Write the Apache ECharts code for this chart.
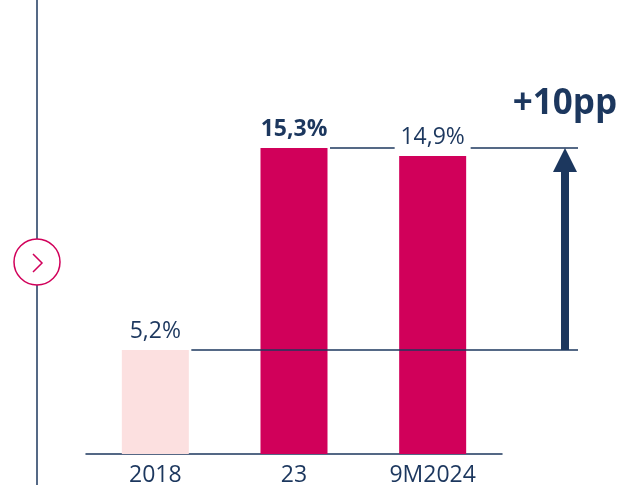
<!DOCTYPE html>
<html>
<head>
    <meta charset="utf-8">
    <title>Bar chart</title>
    <script src="https://cdn.jsdelivr.net/npm/echarts@6/dist/echarts.min.js"></script>
</head>
<body style="margin:0;background:#fff">
<div id="main" style="width: 625px;height:485px;"></div>
<script type="text/javascript">
    // data
    const categories = ['2018', '23', '9M2024'];
    const values = [5.2, 15.3, 14.9];
    const labelTexts = ['5,2%', '15,3%', '14,9%'];
    const boldLabel = [false, true, false];
    const barColors = ['#fce0e0', '#d1005a', '#d1005a'];
    const deltaText = '+10pp';

    const navy = '#1c375e';
    const pink = '#d1005a';
    const font = 'Open Sans';

    const chart = echarts.init(document.getElementById('main'));

    const option = {
        animation: false,
        grid: {left: 86, right: 123, top: 54, bottom: 31, outerBoundsMode: 'none'},
        xAxis: {
            type: 'category',
            data: categories,
            axisTick: {show: false},
            axisLine: {lineStyle: {color: navy, width: 1.5}},
            axisLabel: {color: navy, fontSize: 23, fontFamily: font, margin: 10}
        },
        yAxis: {
            type: 'value',
            min: 0,
            max: 20,
            show: false,
            splitLine: {show: false}
        },
        series: [{
            type: 'bar',
            barWidth: 67,
            data: values.map((v, i) => ({
                value: v,
                itemStyle: {color: barColors[i]},
                label: {fontWeight: boldLabel[i] ? 'bold' : 'normal'}
            })),
            label: {
                show: true,
                position: 'top',
                distance: 7,
                color: navy,
                fontSize: 23,
                fontFamily: font,
                formatter: p => labelTexts[p.dataIndex]
            }
        }]
    };
    chart.setOption(option);

    // reference lines and arrow, placed from the data values
    const half = 34;
    const arrowX = 565;
    const lineEnd = 578;
    const lowIdx = 0, highIdx = 1, lastIdx = 2;
    const pLow = chart.convertToPixel({seriesIndex: 0}, [lowIdx, values[lowIdx]]);
    const pHigh = chart.convertToPixel({seriesIndex: 0}, [highIdx, values[highIdx]]);
    const pLast = chart.convertToPixel({seriesIndex: 0}, [lastIdx, values[lastIdx]]);
    const yLow = Math.round(pLow[1]);
    const yHigh = Math.round(pHigh[1]);
    const lineStyle = {stroke: navy, lineWidth: 1.5};

    chart.setOption({
        graphic: [
            // left decoration
            {type: 'line', shape: {x1: 37, y1: 0, x2: 37, y2: 485}, style: lineStyle, z: 10},
            {type: 'circle', shape: {cx: 37, cy: 262, r: 23}, style: {fill: '#fff', stroke: pink, lineWidth: 1.5}, z: 11},
            {type: 'polyline', shape: {points: [[33, 254], [42, 263], [33, 272]]}, style: {stroke: pink, lineWidth: 1.5, fill: null}, z: 12},
            // lines
            {type: 'line', shape: {x1: pLow[0] + half + 2, y1: yLow, x2: lineEnd, y2: yLow}, style: lineStyle, z: 10},
            {type: 'line', shape: {x1: pHigh[0] + half + 2, y1: yHigh, x2: pLast[0] - half - 4, y2: yHigh}, style: lineStyle, z: 10},
            {type: 'line', shape: {x1: pLast[0] + half + 4, y1: yHigh, x2: lineEnd, y2: yHigh}, style: lineStyle, z: 10},
            // arrow
            {type: 'rect', shape: {x: arrowX - 4, y: yHigh + 20, width: 8, height: yLow - yHigh - 20}, style: {fill: navy}, z: 10},
            {type: 'polygon', shape: {points: [[arrowX - 12, yHigh + 24], [arrowX, yHigh], [arrowX + 12, yHigh + 24]]}, style: {fill: navy}, z: 10},
            {
                type: 'text', x: 565, y: 104,
                style: {text: deltaText, fill: navy, font: 'bold 35px "' + font + '"', align: 'center', verticalAlign: 'middle'},
                z: 10
            }
        ]
    });
</script>
</body>
</html>
